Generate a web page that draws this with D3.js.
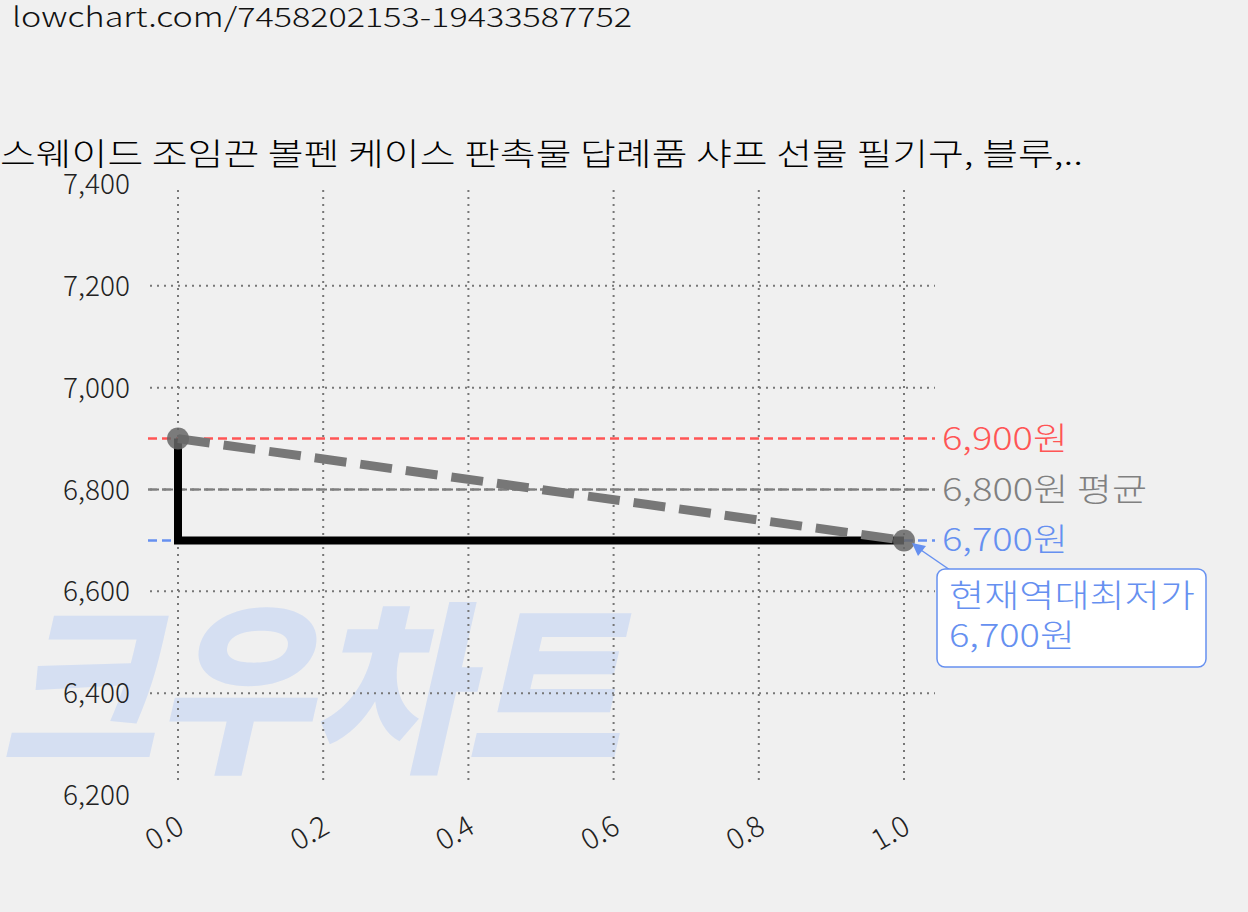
<!DOCTYPE html><html><head><meta charset="utf-8"><script src="https://cdn.jsdelivr.net/npm/d3@7"></script>
<style>body{margin:0;background:#f0f0f0;font-family:"Noto Sans CJK KR","Noto Sans",sans-serif}</style></head><body>
<svg id="c" width="1248" height="912"></svg>
<script>
const priceX=[0,0,1];
const priceY=[6900,6700,6700];
const trendX=[0,1];
const trendY=[6900,6700];
const xTicks=[0,0.2,0.4,0.6,0.8,1.0];
const yTicks=[6200,6400,6600,6800,7000,7200,7400];
const refLines=[{v:6900,label:"6,900원",color:"#ff5555",w:126},{v:6800,label:"6,800원 평균",color:"#808080",w:205},{v:6700,label:"6,700원",color:"#6690f0",w:126}];
const title="스웨이드 조임끈 볼펜 케이스 판촉물 답례품 샤프 선물 필기구, 블루,..";
const svg=d3.select("#c");
const x=d3.scaleLinear().domain([0,1]).range([178,904]);
const y=d3.scaleLinear().domain([6200,7400]).range([795,184]);
svg.append("text").attr("x",12).attr("y",27).attr("font-size",27).attr("font-weight",300).attr("fill","#111").attr("textLength",620).attr("lengthAdjust","spacingAndGlyphs").text("lowchart.com/7458202153-19433587752");
svg.append("text").attr("x",0).attr("y",165).attr("font-size",31).attr("font-weight",300).attr("fill","#000").attr("textLength",1083).attr("lengthAdjust","spacingAndGlyphs").text(title);
svg.append("text").attr("x",0).attr("y",758).attr("font-size",185).attr("font-weight",900).attr("font-style","italic").attr("fill","#d5dff2").attr("textLength",620).attr("lengthAdjust","spacingAndGlyphs").text("크우차트");
const g=svg.append("g");
xTicks.forEach(t=>g.append("line").attr("x1",x(t)).attr("x2",x(t)).attr("y1",190).attr("y2",785).attr("stroke","#777").attr("stroke-width",2).attr("stroke-dasharray","2,5"));
yTicks.filter(t=>t>6200&&t<7400).forEach(t=>g.append("line").attr("x1",150).attr("x2",935).attr("y1",y(t)).attr("y2",y(t)).attr("stroke","#777").attr("stroke-width",2).attr("stroke-dasharray","2,5"));
yTicks.forEach(t=>svg.append("text").attr("x",130).attr("y",y(t)+10).attr("text-anchor","end").attr("font-size",28).attr("font-weight",300).attr("fill","#222").text(d3.format(",")(t)));
xTicks.forEach(t=>svg.append("text").attr("transform",`translate(${x(t)+8},${832}) rotate(-30)`).attr("text-anchor","end").attr("font-size",29).attr("font-weight",300).attr("fill","#222").text(t.toFixed(1)));
refLines.forEach(r=>{svg.append("line").attr("x1",148).attr("x2",935).attr("y1",y(r.v)).attr("y2",y(r.v)).attr("stroke",r.color).attr("stroke-width",2.5).attr("stroke-dasharray","9,5");
svg.append("text").attr("x",942).attr("y",y(r.v)+11).attr("font-size",32).attr("font-weight",300).attr("fill",r.color).attr("textLength",r.w).attr("lengthAdjust","spacingAndGlyphs").text(r.label);});
const line=d3.line().x(d=>x(d[0])).y(d=>y(d[1]));
svg.append("path").attr("d",line(priceX.map((v,i)=>[v,priceY[i]]))).attr("fill","none").attr("stroke","#000").attr("stroke-width",8);
svg.append("path").attr("d",line(trendX.map((v,i)=>[v,trendY[i]]))).attr("fill","none").attr("stroke","#777").attr("stroke-width",9).attr("stroke-dasharray","32,14");
trendX.forEach((v,i)=>svg.append("circle").attr("cx",x(v)).attr("cy",y(trendY[i])).attr("r",11).attr("fill","#666").attr("opacity",0.85));
svg.append("line").attr("x1",950).attr("y1",570).attr("x2",918).attr("y2",548).attr("stroke","#6690f0").attr("stroke-width",1.5);
svg.append("path").attr("d","M912,543 L926,546 L918,556 Z").attr("fill","#6690f0");
svg.append("rect").attr("x",937).attr("y",569).attr("width",269).attr("height",98).attr("rx",8).attr("fill","#fff").attr("stroke","#6690f0").attr("stroke-width",1.5);
svg.append("text").attr("x",949).attr("y",607).attr("font-size",32).attr("font-weight",300).attr("fill","#6690f0").attr("textLength",246).attr("lengthAdjust","spacingAndGlyphs").text("현재역대최저가");
svg.append("text").attr("x",949).attr("y",647).attr("font-size",32).attr("font-weight",300).attr("fill","#6690f0").attr("textLength",126).attr("lengthAdjust","spacingAndGlyphs").text("6,700원");
</script></body></html>
